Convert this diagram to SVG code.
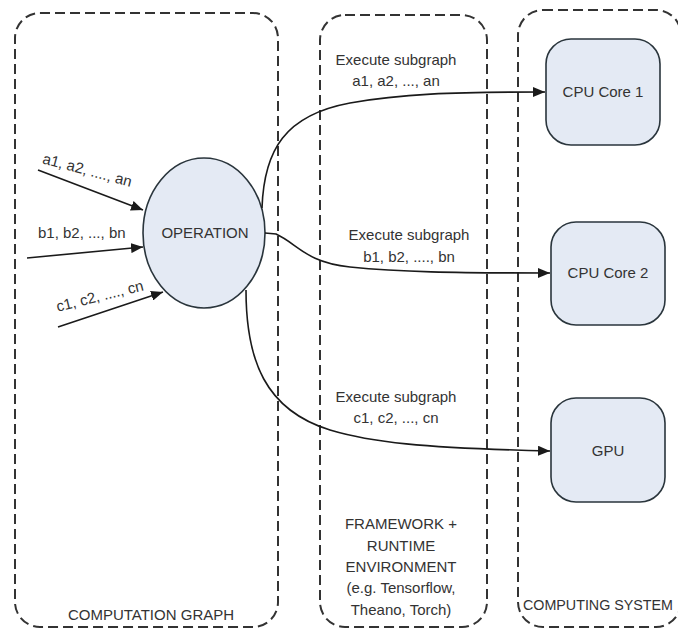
<svg xmlns="http://www.w3.org/2000/svg" width="678" height="628" viewBox="0 0 678 628">
<defs>
<marker id="arr" markerWidth="12" markerHeight="10" refX="12" refY="5" orient="auto" markerUnits="userSpaceOnUse">
<path d="M0,0 L12,5 L0,10 Z" fill="#1a1a1a"/>
</marker>
<style>
.cont{fill:none;stroke:#333;stroke-width:2;stroke-dasharray:10 5}
.node{fill:#e4eaf4;stroke:#2a353c;stroke-width:1.6}
.edge{fill:none;stroke:#1a1a1a;stroke-width:1.6;marker-end:url(#arr)}
text{font-family:"Liberation Sans",Arial,sans-serif;font-size:15px;fill:#333}
.m{text-anchor:middle}
</style>
</defs>
<rect width="678" height="628" fill="#fff"/>
<g id="computation-graph">
<rect class="cont" x="15" y="13" width="263" height="614" rx="25"/>
<text class="m" x="151" y="620">COMPUTATION GRAPH</text>
</g>
<g id="framework">
<rect class="cont" x="320" y="15" width="167" height="612" rx="25"/>
<text class="m" x="401" y="529">FRAMEWORK +</text>
<text class="m" x="401" y="551">RUNTIME</text>
<text class="m" x="401" y="572">ENVIRONMENT</text>
<text class="m" x="401" y="593">(e.g. Tensorflow,</text>
<text class="m" x="401" y="615">Theano, Torch)</text>
</g>
<g id="computing-system">
<rect class="cont" x="518" y="10" width="163" height="617" rx="25"/>
<text x="523" y="610" style="font-size:14.5px" textLength="150" lengthAdjust="spacingAndGlyphs">COMPUTING SYSTEM</text>
</g>
<g id="operation">
<ellipse class="node" cx="204" cy="233" rx="61" ry="75"/>
<text class="m" x="205" y="238">OPERATION</text>
</g>
<g id="cpu-core-1">
<rect class="node" x="546" y="39" width="114" height="106" rx="25"/>
<text class="m" x="603" y="97">CPU Core 1</text>
</g>
<g id="cpu-core-2">
<rect class="node" x="551" y="222" width="114" height="103" rx="25"/>
<text class="m" x="608" y="278">CPU Core 2</text>
</g>
<g id="gpu">
<rect class="node" x="551" y="398" width="114" height="104" rx="25"/>
<text class="m" x="608" y="456">GPU</text>
</g>
<g id="connectors">
<line class="edge" x1="38" y1="170" x2="143" y2="210"/>
<line class="edge" x1="27" y1="258" x2="143" y2="247"/>
<line class="edge" x1="58" y1="327" x2="163" y2="292"/>
<path class="edge" d="M262,208 C264,150 285,115 350,103 C400,94 450,92 545,92"/>
<path class="edge" d="M265,233 L276,234 C298,244 305,262 350,267 C400,272 450,273 550,273"/>
<path class="edge" d="M246,290 C246,360 265,410 330,430 C370,442 420,448 550,451"/>
<text class="m" transform="translate(86,175) rotate(15)">a1, a2, ...., an</text>
<text x="38" y="238">b1, b2, ..., bn</text>
<text class="m" transform="translate(101,301) rotate(-14)">c1, c2, ...., cn</text>
<text class="m" x="396" y="65">Execute subgraph</text>
<text class="m" x="396" y="86">a1, a2, ..., an</text>
<text class="m" x="409" y="240">Execute subgraph</text>
<text class="m" x="409" y="262">b1, b2, ...., bn</text>
<text class="m" x="396" y="402">Execute subgraph</text>
<text class="m" x="396" y="423">c1, c2, ..., cn</text>
</g>
</svg>
